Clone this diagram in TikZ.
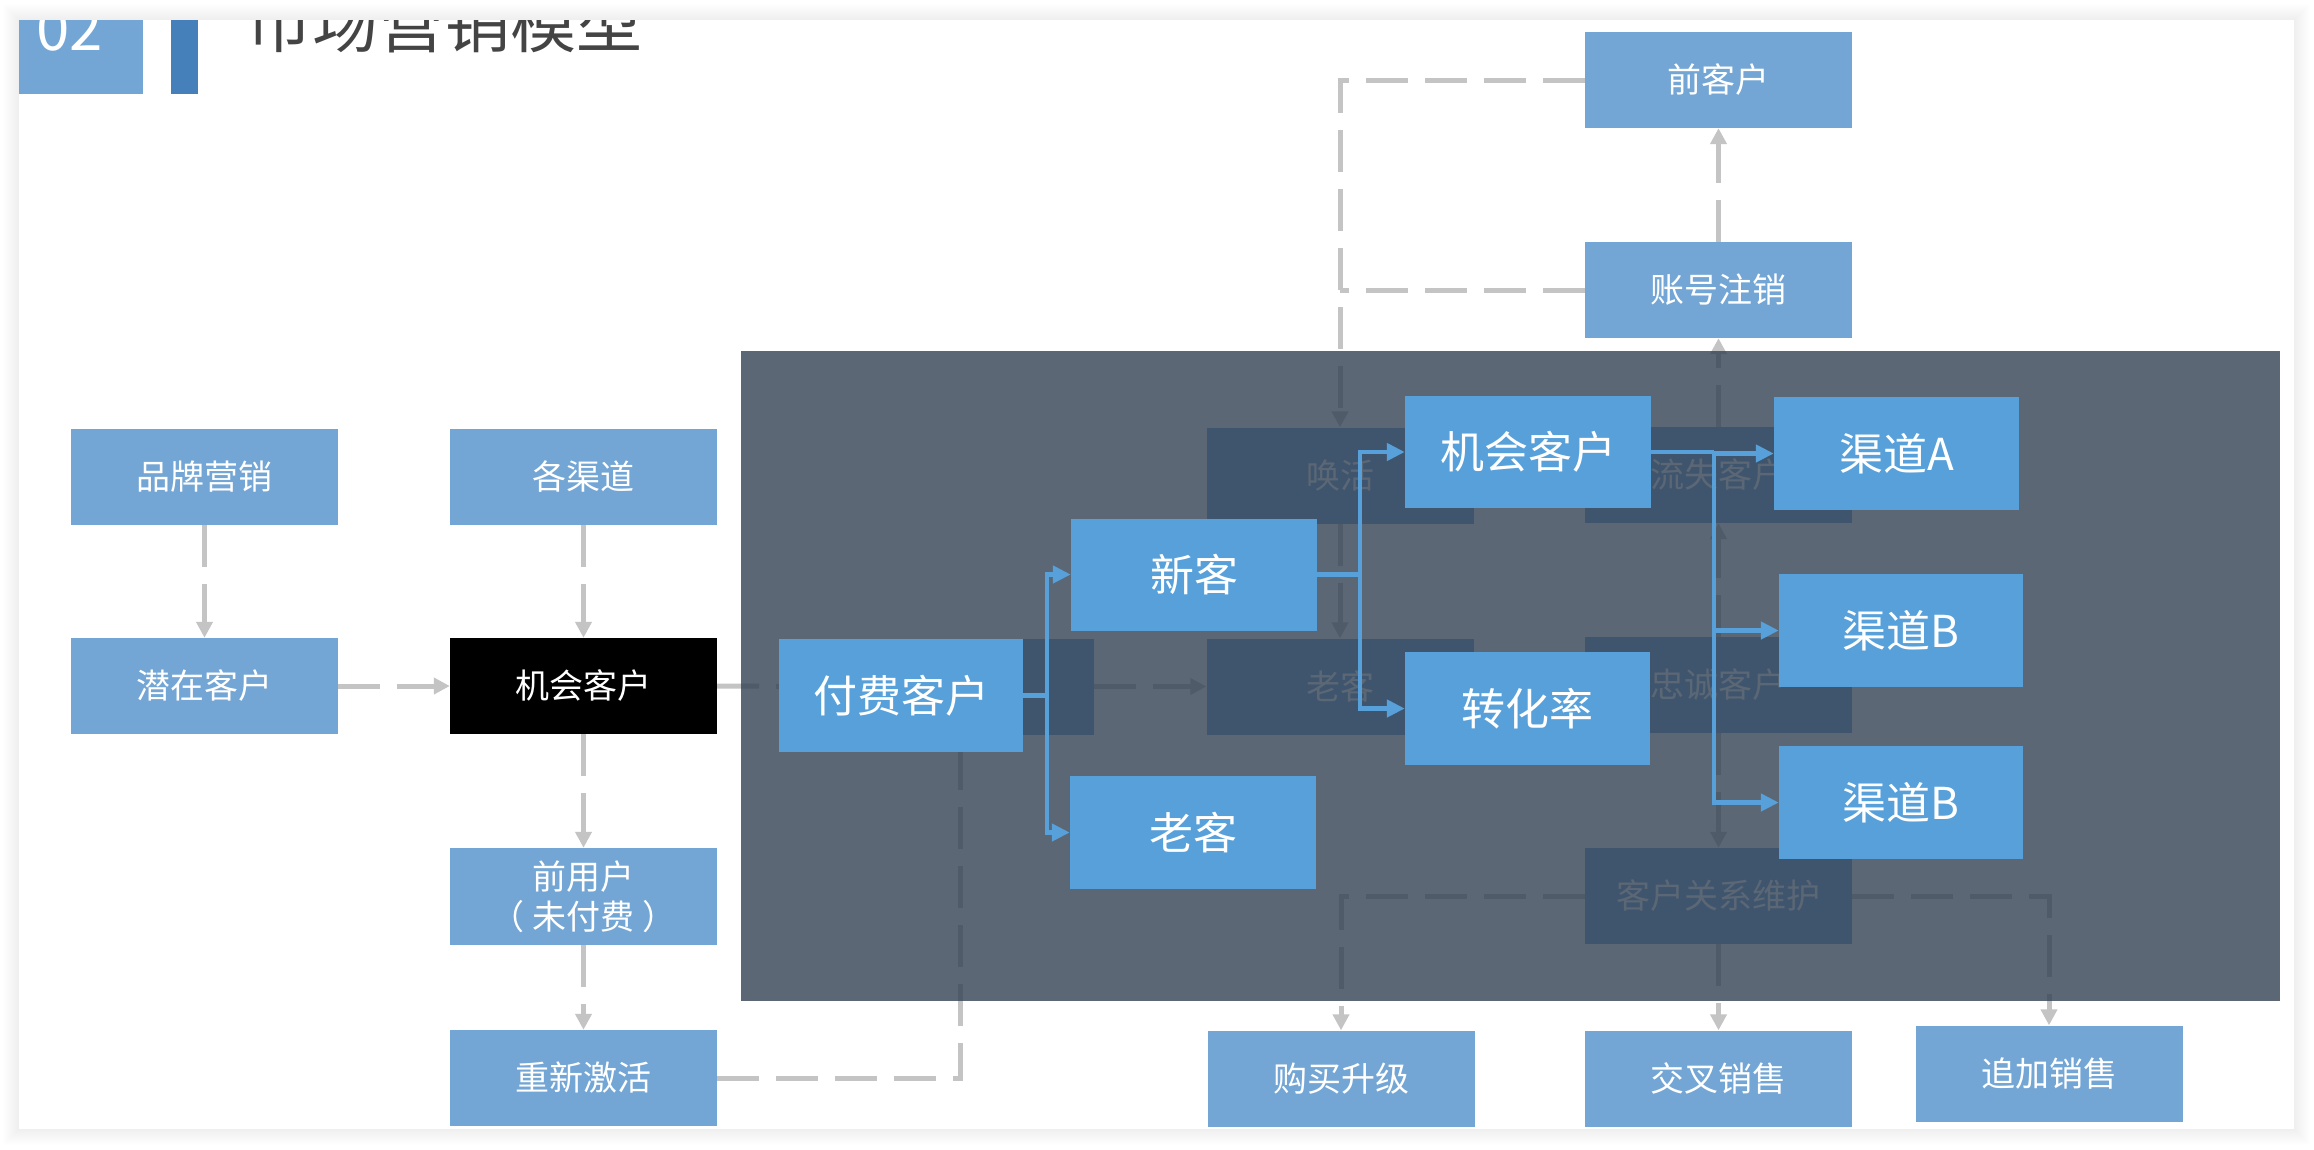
\documentclass[tikz,border=0pt]{standalone}
\usepackage{fontspec}
\setmainfont{Noto Sans CJK SC}
\usetikzlibrary{arrows.meta}
\definecolor{lb}{RGB}{115,166,213}
\definecolor{hb}{RGB}{87,160,218}
\definecolor{gl}{RGB}{196,196,196}
\definecolor{ov}{RGB}{50,65,83}
\definecolor{barblue}{RGB}{70,128,187}
\definecolor{ttl}{RGB}{68,68,68}
\tikzset{
  box/.style={fill=lb, text=white, minimum width=267pt, minimum height=96pt, inner sep=0pt,
    font=\fontsize{34}{40}\selectfont, align=center},
  blackbox/.style={box, fill=black},
  hbox/.style={fill=hb, text=white, minimum width=245pt, minimum height=113pt, inner sep=0pt,
    font=\fontsize{44}{50}\selectfont},
  gline/.style={draw=gl, line width=5pt, dash pattern=on 42pt off 17pt},
  garrow/.style={gline, -{Triangle[length=16pt,width=16pt]}},
  barrow/.style={draw=hb, line width=4.5pt, -{Triangle[length=18pt,width=17pt]}},
  bline/.style={draw=hb, line width=4.5pt}
}
\begin{document}
\begin{tikzpicture}[x=1pt,y=-1pt]
\useasboundingbox (0,0) rectangle (2314,1149);
\fill[white] (0,0) rectangle (2314,1149);
\foreach \i in {1,...,16} {\fill[black,opacity=0.004] (19-\i,20-\i) rectangle (2294+\i,1129+\i);}
\fill[white] (19,20) rectangle (2294,1129);

% header
\fill[lb] (19,20) rectangle (143,94);
\fill[barblue] (171,20) rectangle (198,94);
\begin{scope}
\clip (19,20) rectangle (2294,1129);
\node[anchor=base west, text=white, font=\fontsize{60}{60}\selectfont, inner sep=0pt] (num) at (36,50) {02};
\node[anchor=base west, text=ttl, font=\fontsize{66}{66}\selectfont, inner sep=0pt] (title) at (246,47) {市场营销模型};
\end{scope}

% base nodes
\node[box] (pm) at (204.5,477) {品牌营销};
\node[box] (qz) at (204.5,686) {潜在客户};
\node[box] (gq) at (583.5,477) {各渠道};
\node[blackbox] (jh) at (583.5,686) {机会客户};
\node[box, minimum height=97pt] (qy) at (583.5,896.5) {前用户\\（\kern8pt 未付费\kern8pt ）};
\node[box] (cx) at (583.5,1078) {重新激活};
\node[box] (qk) at (1718.5,80) {前客户};
\node[box] (zx) at (1718.5,290) {账号注销};
\node[box] (ff0) at (960.5,686.5) {};
\node[box] (hh) at (1340,475.5) {唤活};
\node[box] (lk) at (1340,686.5) {老客};
\node[box] (ls) at (1718.5,475) {流失客户};
\node[box] (zc) at (1718.5,685) {忠诚客户};
\node[box] (wh) at (1718.5,896) {客户关系维护};
\node[box] (gs) at (1341,1078.5) {购买升级};
\node[box] (jc) at (1718.5,1078.5) {交叉销售};
\node[box] (zj) at (2049,1073.5) {追加销售};

% base connectors
\draw[garrow] (pm.south) -- (qz.north);
\draw[garrow] (gq.south) -- (jh.north);
\draw[garrow] (qz.east) -- (jh.west);
\draw[garrow] (jh.south) -- (qy.north);
\draw[garrow] (qy.south) -- (cx.north);
\draw[garrow] (jh.east) -- (ff0.west);
\draw[garrow] (cx.east) -| (ff0.south);
\draw[garrow] (ff0.east) -- (lk.west);
\draw[garrow] (hh.south) -- (lk.north);
\draw[garrow] (qk.west) -| (hh.north);
\coordinate (zxj) at (hh.north |- zx.west);
\draw[gline] (zx.west) -- (zxj);
\draw[garrow] (ls.north) -- (zx.south);
\draw[garrow] (zx.north) -- (qk.south);
\draw[garrow] (zc.north) -- (ls.south);
\draw[garrow] (zc.south) -- (wh.north);
\draw[garrow] (wh.south) -- (jc.north);
\draw[garrow] (wh.west) -| (gs.north);
\draw[garrow] (wh.east) -| (zj.north);

% overlay
\fill[ov, opacity=0.8] (741,351) rectangle (2280,1001);

% highlighted nodes
\node[hbox, minimum width=244pt] (F) at (901,695.5) {付费客户};
\node[hbox, minimum width=246pt, minimum height=112pt] (X) at (1194,574.5) {新客};
\node[hbox, minimum width=246pt] (L) at (1193,832.5) {老客};
\node[hbox, minimum width=246pt, minimum height=112pt] (J) at (1528,452) {机会客户};
\node[hbox] (Z) at (1527.5,708.5) {转化率};
\node[hbox] (A) at (1896.5,453.5) {渠道A};
\node[hbox, minimum width=244pt] (B1) at (1901,630.5) {渠道B};
\node[hbox, minimum width=244pt] (B2) at (1901,802.5) {渠道B};

% blue connectors
\coordinate (fb) at (1047,695.5);
\draw[bline] (F.east) -- (fb);
\draw[barrow] (fb) |- (X.west);
\draw[barrow] (fb) |- (L.west);
\coordinate (xb) at (1360,574.5);
\draw[bline] (X.east) -- (xb);
\draw[barrow] (xb) |- (J.west);
\draw[barrow] (xb) |- (Z.west);
\coordinate (jb) at (1714,452);
\draw[bline] (J.east) -- (jb);
\draw[barrow] (jb) |- (A.west);
\draw[barrow] (jb) |- (B1.west);
\draw[barrow] (jb) |- (B2.west);
\end{tikzpicture}
\end{document}
